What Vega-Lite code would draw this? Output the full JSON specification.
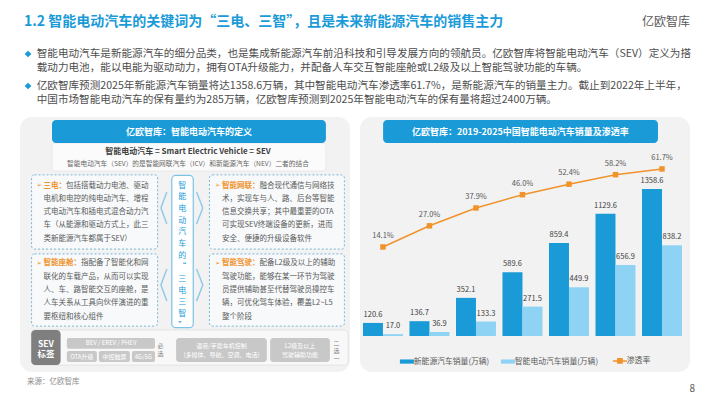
{
  "$schema": "https://vega.github.io/schema/vega-lite/v6.json",
  "background": "white",
  "padding": {"left": 20, "top": 14, "right": 15, "bottom": 0},
  "spacing": 8,
  "resolve": {"scale": {"color": "independent"}, "legend": {"color": "independent"}},
  "vconcat": [
    {
      "width": 670,
      "height": 64,
      "resolve": {"scale": {"y": "independent"}},
      "layer": [
        {
          "data": {"values": [
            {"段": "1", "行": "1", "文本": "智能电动汽车是新能源汽车的细分品类，也是集成新能源汽车前沿科技和引导发展方向的领航员。亿欧智库将智能电动汽车（SEV）定义为搭"},
            {"段": "1", "行": "2", "文本": "载动力电池，能以电能为驱动动力，拥有OTA升级能力，并配备人车交互智能座舱或L2级及以上智能驾驶功能的车辆。"},
            {"段": "2", "行": "1", "文本": "亿欧智库预测2025年新能源汽车销量将达1358.6万辆，其中智能电动汽车渗透率61.7%，是新能源汽车的销量主力。截止到2022年上半年，"},
            {"段": "2", "行": "2", "文本": "中国市场智能电动汽车的保有量约为285万辆，亿欧智库预测到2025年智能电动汽车的保有量将超过2400万辆。"}
          ]},
          "encoding": {
            "y": {"field": "段", "type": "nominal", "scale": {"type": "band", "paddingInner": 0, "paddingOuter": 0}, "axis": null},
            "yOffset": {"field": "行", "type": "nominal", "scale": {"type": "band", "paddingInner": 0, "paddingOuter": 0.14}}
          },
          "layer": [
            {
              "transform": [{"filter": "datum['行'] === '1'"}],
              "mark": {"type": "point", "shape": "diamond", "filled": true, "size": 45, "color": "#1a9bd8", "opacity": 1},
              "encoding": {"x": {"datum": 1.2, "type": "quantitative", "scale": {"domain": [0, 100], "nice": false, "zero": false}, "axis": null}}
            },
            {
              "mark": {"type": "text", "align": "left", "baseline": "middle", "fontSize": 10.6, "color": "#4d4d4d"},
              "encoding": {
                "x": {"datum": 2.5, "type": "quantitative", "scale": {"domain": [0, 100], "nice": false, "zero": false}, "axis": null},
                "text": {"field": "文本"}
              }
            }
          ]
        },
        {
          "layer": [
            {
              "data": {"values": [{"文本": "1.2 智能电动汽车的关键词为“三电、三智”，且是未来新能源汽车的销售主力"}]},
              "mark": {"type": "text", "align": "left", "baseline": "middle", "fontSize": 14, "fontWeight": "bold", "color": "#1a9bd8"},
              "encoding": {
                "x": {"datum": 0.6, "type": "quantitative", "scale": {"domain": [0, 100], "nice": false, "zero": false}, "axis": null},
                "y": {"datum": 1.36, "type": "quantitative", "scale": {"domain": [0, 1], "nice": false, "zero": false}, "axis": null},
                "text": {"field": "文本"}
              }
            },
            {
              "data": {"values": [{"文本": "亿欧智库"}]},
              "mark": {"type": "text", "align": "right", "baseline": "middle", "fontSize": 12, "color": "#595959"},
              "encoding": {
                "x": {"datum": 100, "type": "quantitative", "scale": {"domain": [0, 100], "nice": false, "zero": false}, "axis": null},
                "y": {"datum": 1.36, "type": "quantitative", "scale": {"domain": [0, 1], "nice": false, "zero": false}, "axis": null},
                "text": {"field": "文本"}
              }
            }
          ]
        }
      ]
    },
    {
      "spacing": 10,
      "resolve": {"scale": {"color": "independent"}, "legend": {"color": "independent"}},
      "hconcat": [
        {
          "width": 330,
          "height": 255,
          "view": {"fill": "#f2f2f2", "cornerRadius": 12, "stroke": null},
          "title": {"text": "来源：亿欧智库", "orient": "bottom", "anchor": "start", "offset": 6, "dx": 7, "baseline": "top", "fontSize": 7.5, "fontWeight": "normal", "color": "#8c8c8c"},
          "resolve": {"scale": {"x": "independent", "y": "independent"}},
          "layer": [
            {
              "layer": [
                {"data": {"values": [{"部件": "公式框"}]}, "mark": {"type": "rect", "fill": "#fbfbfb", "stroke": "#e6e6e6", "strokeWidth": 0.8, "cornerRadius": 3},
                 "encoding": {"x": {"datum": 9.7, "type": "quantitative", "scale": {"domain": [0, 100], "nice": false, "zero": false}, "axis": null}, "x2": {"datum": 92.7},
                              "y": {"datum": 10.2, "type": "quantitative", "scale": {"domain": [0, 100], "nice": false, "zero": false, "reverse": true}, "axis": null}, "y2": {"datum": 21.2}}},
                {"data": {"values": [{"部件": "标题栏"}]}, "mark": {"type": "rect", "fill": "#1a9bd8", "cornerRadius": 4},
                 "encoding": {"x": {"datum": 9.7, "type": "quantitative", "axis": null}, "x2": {"datum": 92.7},
                              "y": {"datum": 1.2, "type": "quantitative", "axis": null}, "y2": {"datum": 10.2}}},
                {"data": {"values": [{"文本": "亿欧智库：智能电动汽车的定义"}]}, "mark": {"type": "text", "align": "center", "baseline": "middle", "fontSize": 9, "fontWeight": "bold", "color": "white"},
                 "encoding": {"x": {"datum": 51.2, "type": "quantitative"}, "y": {"datum": 5.7, "type": "quantitative"}, "text": {"field": "文本"}}},
                {"data": {"values": [{"文本": "智能电动汽车 = Smart Electric Vehicle = SEV"}]}, "mark": {"type": "text", "align": "center", "baseline": "middle", "fontSize": 8, "fontWeight": "bold", "color": "#404040"},
                 "encoding": {"x": {"datum": 50.9, "type": "quantitative"}, "y": {"datum": 13.9, "type": "quantitative"}, "text": {"field": "文本"}}},
                {"data": {"values": [{"文本": "智能电动汽车（SEV）的是智能网联汽车（ICV）和新能源汽车（NEV）二者的结合"}]}, "mark": {"type": "text", "align": "center", "baseline": "middle", "fontSize": 6.7, "color": "#666666"},
                 "encoding": {"x": {"datum": 50.9, "type": "quantitative"}, "y": {"datum": 18.6, "type": "quantitative"}, "text": {"field": "文本"}}},
                {"data": {"values": [{"部件": "三电框"}]}, "mark": {"type": "rect", "fill": "#f7f9fb", "stroke": "#7ab8d9", "strokeDash": [2, 2], "strokeWidth": 1, "cornerRadius": 3},
                 "encoding": {"x": {"datum": 3.5, "type": "quantitative"}, "x2": {"datum": 41.7}, "y": {"datum": 22.7, "type": "quantitative"}, "y2": {"datum": 51.8}}},
                {"data": {"values": [{"部件": "智能座舱框"}]}, "mark": {"type": "rect", "fill": "#f7f9fb", "stroke": "#7ab8d9", "strokeDash": [2, 2], "strokeWidth": 1, "cornerRadius": 3},
                 "encoding": {"x": {"datum": 3.5, "type": "quantitative"}, "x2": {"datum": 41.7}, "y": {"datum": 53.7, "type": "quantitative"}, "y2": {"datum": 82.0}}},
                {"data": {"values": [{"部件": "智能网联框"}]}, "mark": {"type": "rect", "fill": "#f7f9fb", "stroke": "#7ab8d9", "strokeDash": [2, 2], "strokeWidth": 1, "cornerRadius": 3},
                 "encoding": {"x": {"datum": 57.4, "type": "quantitative"}, "x2": {"datum": 98.3}, "y": {"datum": 22.7, "type": "quantitative"}, "y2": {"datum": 51.8}}},
                {"data": {"values": [{"部件": "智能驾驶框"}]}, "mark": {"type": "rect", "fill": "#f7f9fb", "stroke": "#7ab8d9", "strokeDash": [2, 2], "strokeWidth": 1, "cornerRadius": 3},
                 "encoding": {"x": {"datum": 57.4, "type": "quantitative"}, "x2": {"datum": 98.3}, "y": {"datum": 53.7, "type": "quantitative"}, "y2": {"datum": 82.0}}},
                {"data": {"values": [{"部件": "中柱"}]}, "mark": {"type": "rect", "fill": "white", "stroke": "#7cc3e6", "strokeWidth": 1.2, "cornerRadius": 4},
                 "encoding": {"x": {"datum": 46.0, "type": "quantitative"}, "x2": {"datum": 52.5}, "y": {"datum": 22.9, "type": "quantitative"}, "y2": {"datum": 82.6}}},
                {"data": {"values": [{"文本": "智\n能\n电\n动\n汽\n车\n的\n“\n三\n电\n三\n智\n”"}]}, "mark": {"type": "text", "align": "center", "baseline": "top", "fontSize": 8, "lineHeight": 11.7, "lineBreak": "\n", "color": "#1a9bd8"},
                 "encoding": {"x": {"datum": 49.2, "type": "quantitative"}, "y": {"datum": 25.3, "type": "quantitative"}, "text": {"field": "文本"}}},
                {"data": {"values": [{"部件": "箭头"}]}, "mark": {"type": "rule", "color": "#8fcbe8", "strokeWidth": 1.5},
                 "encoding": {"x": {"datum": 44.5, "type": "quantitative"}, "y": {"datum": 29.4, "type": "quantitative"}, "x2": {"datum": 42.7}, "y2": {"datum": 35.7}}},
                {"data": {"values": [{"部件": "箭头"}]}, "mark": {"type": "rule", "color": "#8fcbe8", "strokeWidth": 1.5},
                 "encoding": {"x": {"datum": 42.7, "type": "quantitative"}, "y": {"datum": 35.7, "type": "quantitative"}, "x2": {"datum": 44.5}, "y2": {"datum": 42.0}}},
                {"data": {"values": [{"部件": "箭头"}]}, "mark": {"type": "rule", "color": "#8fcbe8", "strokeWidth": 1.5},
                 "encoding": {"x": {"datum": 44.5, "type": "quantitative"}, "y": {"datum": 59.6, "type": "quantitative"}, "x2": {"datum": 42.7}, "y2": {"datum": 65.9}}},
                {"data": {"values": [{"部件": "箭头"}]}, "mark": {"type": "rule", "color": "#8fcbe8", "strokeWidth": 1.5},
                 "encoding": {"x": {"datum": 42.7, "type": "quantitative"}, "y": {"datum": 65.9, "type": "quantitative"}, "x2": {"datum": 44.5}, "y2": {"datum": 72.2}}},
                {"data": {"values": [{"部件": "箭头"}]}, "mark": {"type": "rule", "color": "#8fcbe8", "strokeWidth": 1.5},
                 "encoding": {"x": {"datum": 53.5, "type": "quantitative"}, "y": {"datum": 29.4, "type": "quantitative"}, "x2": {"datum": 55.4}, "y2": {"datum": 35.7}}},
                {"data": {"values": [{"部件": "箭头"}]}, "mark": {"type": "rule", "color": "#8fcbe8", "strokeWidth": 1.5},
                 "encoding": {"x": {"datum": 55.4, "type": "quantitative"}, "y": {"datum": 35.7, "type": "quantitative"}, "x2": {"datum": 53.5}, "y2": {"datum": 42.0}}},
                {"data": {"values": [{"部件": "箭头"}]}, "mark": {"type": "rule", "color": "#8fcbe8", "strokeWidth": 1.5},
                 "encoding": {"x": {"datum": 53.5, "type": "quantitative"}, "y": {"datum": 59.6, "type": "quantitative"}, "x2": {"datum": 55.4}, "y2": {"datum": 65.9}}},
                {"data": {"values": [{"部件": "箭头"}]}, "mark": {"type": "rule", "color": "#8fcbe8", "strokeWidth": 1.5},
                 "encoding": {"x": {"datum": 55.4, "type": "quantitative"}, "y": {"datum": 65.9, "type": "quantitative"}, "x2": {"datum": 53.5}, "y2": {"datum": 72.2}}},
                {"data": {"values": [{"部件": "标签行"}]}, "mark": {"type": "rect", "fill": "#f8f8f8", "stroke": "#e0e0e0", "strokeWidth": 0.8, "cornerRadius": 4},
                 "encoding": {"x": {"datum": 3.4, "type": "quantitative"}, "x2": {"datum": 99.4}, "y": {"datum": 83.5, "type": "quantitative"}, "y2": {"datum": 97.3}}},
                {"data": {"values": [{"部件": "SEV标签"}]}, "mark": {"type": "rect", "fill": "#7f7f7f", "cornerRadius": 4},
                 "encoding": {"x": {"datum": 3.4, "type": "quantitative"}, "x2": {"datum": 12.3}, "y": {"datum": 83.5, "type": "quantitative"}, "y2": {"datum": 97.3}}},
                {"data": {"values": [{"文本": "SEV\n标签"}]}, "mark": {"type": "text", "align": "center", "baseline": "top", "fontSize": 8.5, "lineHeight": 10.5, "lineBreak": "\n", "fontWeight": "bold", "color": "white"},
                 "encoding": {"x": {"datum": 7.85, "type": "quantitative"}, "y": {"datum": 87.3, "type": "quantitative"}, "text": {"field": "文本"}}},
                {"data": {"values": [{"部件": "BEV"}]}, "mark": {"type": "rect", "fill": "#c8c8c8", "cornerRadius": 2},
                 "encoding": {"x": {"datum": 14.2, "type": "quantitative"}, "x2": {"datum": 40.9}, "y": {"datum": 86.7, "type": "quantitative"}, "y2": {"datum": 90.9}}},
                {"data": {"values": [{"部件": "OTA"}]}, "mark": {"type": "rect", "fill": "#c8c8c8", "cornerRadius": 2},
                 "encoding": {"x": {"datum": 14.2, "type": "quantitative"}, "x2": {"datum": 23.3}, "y": {"datum": 91.8, "type": "quantitative"}, "y2": {"datum": 96.1}}},
                {"data": {"values": [{"部件": "中控触屏"}]}, "mark": {"type": "rect", "fill": "#c8c8c8", "cornerRadius": 2},
                 "encoding": {"x": {"datum": 23.9, "type": "quantitative"}, "x2": {"datum": 33.3}, "y": {"datum": 91.8, "type": "quantitative"}, "y2": {"datum": 96.1}}},
                {"data": {"values": [{"部件": "4G/5G"}]}, "mark": {"type": "rect", "fill": "#c8c8c8", "cornerRadius": 2},
                 "encoding": {"x": {"datum": 33.9, "type": "quantitative"}, "x2": {"datum": 40.9}, "y": {"datum": 91.8, "type": "quantitative"}, "y2": {"datum": 96.1}}},
                {"data": {"values": [{"部件": "语音"}]}, "mark": {"type": "rect", "fill": "#c8c8c8", "cornerRadius": 3},
                 "encoding": {"x": {"datum": 47.3, "type": "quantitative"}, "x2": {"datum": 74.8}, "y": {"datum": 86.7, "type": "quantitative"}, "y2": {"datum": 96.1}}},
                {"data": {"values": [{"部件": "L2"}]}, "mark": {"type": "rect", "fill": "#c8c8c8", "cornerRadius": 3},
                 "encoding": {"x": {"datum": 75.8, "type": "quantitative"}, "x2": {"datum": 93.9}, "y": {"datum": 86.7, "type": "quantitative"}, "y2": {"datum": 96.1}}},
                {"data": {"values": [{"文本": "BEV / EREV / PHEV"}]}, "mark": {"type": "text", "align": "center", "baseline": "middle", "fontSize": 6, "color": "white"},
                 "encoding": {"x": {"datum": 27.6, "type": "quantitative"}, "y": {"datum": 88.8, "type": "quantitative"}, "text": {"field": "文本"}}},
                {"data": {"values": [{"文本": "OTA升级"}]}, "mark": {"type": "text", "align": "center", "baseline": "middle", "fontSize": 6, "color": "white"},
                 "encoding": {"x": {"datum": 18.75, "type": "quantitative"}, "y": {"datum": 93.95, "type": "quantitative"}, "text": {"field": "文本"}}},
                {"data": {"values": [{"文本": "中控触屏"}]}, "mark": {"type": "text", "align": "center", "baseline": "middle", "fontSize": 6, "color": "white"},
                 "encoding": {"x": {"datum": 28.6, "type": "quantitative"}, "y": {"datum": 93.95, "type": "quantitative"}, "text": {"field": "文本"}}},
                {"data": {"values": [{"文本": "4G/5G"}]}, "mark": {"type": "text", "align": "center", "baseline": "middle", "fontSize": 6, "color": "white"},
                 "encoding": {"x": {"datum": 37.4, "type": "quantitative"}, "y": {"datum": 93.95, "type": "quantitative"}, "text": {"field": "文本"}}},
                {"data": {"values": [{"文本": "语音/手势车机控制\n(多媒体、导航、空调、电话)"}]}, "mark": {"type": "text", "align": "center", "baseline": "top", "fontSize": 6, "lineHeight": 8.5, "lineBreak": "\n", "color": "white"},
                 "encoding": {"x": {"datum": 61.05, "type": "quantitative"}, "y": {"datum": 88.7, "type": "quantitative"}, "text": {"field": "文本"}}},
                {"data": {"values": [{"文本": "L2级及以上\n驾驶辅助功能"}]}, "mark": {"type": "text", "align": "center", "baseline": "top", "fontSize": 6, "lineHeight": 8.5, "lineBreak": "\n", "color": "white"},
                 "encoding": {"x": {"datum": 84.85, "type": "quantitative"}, "y": {"datum": 88.7, "type": "quantitative"}, "text": {"field": "文本"}}},
                {"data": {"values": [{"文本": "必\n选"}]}, "mark": {"type": "text", "align": "center", "baseline": "top", "fontSize": 6, "lineHeight": 8.2, "lineBreak": "\n", "color": "#7f7f7f"},
                 "encoding": {"x": {"datum": 42.6, "type": "quantitative"}, "y": {"datum": 88.7, "type": "quantitative"}, "text": {"field": "文本"}}},
                {"data": {"values": [{"文本": "二\n选\n一"}]}, "mark": {"type": "text", "align": "center", "baseline": "top", "fontSize": 6, "lineHeight": 8, "lineBreak": "\n", "color": "#7f7f7f"},
                 "encoding": {"x": {"datum": 95.9, "type": "quantitative"}, "y": {"datum": 87.5, "type": "quantitative"}, "text": {"field": "文本"}}}
              ]
            },
            {
              "data": {"values": [
                {"列": "左", "排": "上", "符号": "➢", "要点": "三电：", "首行": "包括搭载动力电池、驱动", "正文": "电机和电控的纯电动汽车、增程\n式电动汽车和插电式混合动力汽\n车（从能源和驱动方式上，此三\n类新能源汽车都属于SEV）"},
                {"列": "右", "排": "上", "符号": "➢", "要点": "智能网联：", "首行": "融合现代通信与网络技", "正文": "术，实现车与人、路、后台等智能\n信息交换共享；其中最重要的OTA\n可实现SEV终端设备的更新，进而\n安全、便捷的升级设备软件"},
                {"列": "左", "排": "下", "符号": "➢", "要点": "智能座舱：", "首行": "指配备了智能化和网", "正文": "联化的车载产品，从而可以实现\n人、车、路智能交互的座舱，是\n人车关系从工具向伙伴演进的重\n要枢纽和核心组件"},
                {"列": "右", "排": "下", "符号": "➢", "要点": "智能驾驶：", "首行": "配备L2级及以上的辅助", "正文": "驾驶功能，能够在某一环节为驾驶\n员提供辅助甚至代替驾驶员操控车\n辆，可优化驾车体验，覆盖L2~L5\n整个阶段"}
              ]},
              "encoding": {
                "x": {"field": "列", "type": "nominal", "bandPosition": 0, "scale": {"type": "band", "domain": ["左", "右"], "paddingInner": 0.328, "paddingOuter": 0.0882, "align": 0.524}, "axis": null},
                "y": {"field": "排", "type": "nominal", "bandPosition": 0, "scale": {"type": "band", "domain": ["上", "下"], "paddingInner": 0.064, "paddingOuter": 0.667, "align": 0.5625}, "axis": null}
              },
              "layer": [
                {"mark": {"type": "text", "align": "left", "baseline": "top", "fontSize": 6.5, "color": "#f0932b", "dy": 6.5, "font": "DejaVu Sans"}, "encoding": {"text": {"field": "符号"}}},
                {"mark": {"type": "text", "align": "left", "baseline": "top", "fontSize": 7.5, "fontWeight": "bold", "color": "#f0932b", "dx": 7, "dy": 6}, "encoding": {"text": {"field": "要点"}}},
                {"transform": [{"filter": "datum['要点'] === '三电：'"}],
                 "mark": {"type": "text", "align": "left", "baseline": "top", "fontSize": 7.5, "color": "#595959", "dx": 29.5, "dy": 6}, "encoding": {"text": {"field": "首行"}}},
                {"transform": [{"filter": "datum['要点'] !== '三电：'"}],
                 "mark": {"type": "text", "align": "left", "baseline": "top", "fontSize": 7.5, "color": "#595959", "dx": 44.5, "dy": 6}, "encoding": {"text": {"field": "首行"}}},
                {"mark": {"type": "text", "align": "left", "baseline": "top", "fontSize": 7.5, "lineHeight": 13.3, "lineBreak": "\n", "color": "#595959", "dx": 7, "dy": 19.3}, "encoding": {"text": {"field": "正文"}}}
              ]
            }
          ]
        },
        {
          "width": 330,
          "height": 255,
          "view": {"fill": "#f2f2f2", "cornerRadius": 12, "stroke": null},
          "title": {"text": "8", "orient": "bottom", "anchor": "end", "offset": 12, "dx": 5, "baseline": "top", "fontSize": 10, "fontWeight": "normal", "color": "#595959"},
          "resolve": {"scale": {"x": "independent", "y": "independent"}},
          "layer": [
            {
              "resolve": {"scale": {"y": "independent"}},
              "layer": [
                {
                  "data": {"values": [
                    {"年份": "2019", "系列": "新能源汽车销量(万辆)", "销量": 120.6},
                    {"年份": "2019", "系列": "智能电动汽车销量(万辆)", "销量": 17.0},
                    {"年份": "2020", "系列": "新能源汽车销量(万辆)", "销量": 136.7},
                    {"年份": "2020", "系列": "智能电动汽车销量(万辆)", "销量": 36.9},
                    {"年份": "2021", "系列": "新能源汽车销量(万辆)", "销量": 352.1},
                    {"年份": "2021", "系列": "智能电动汽车销量(万辆)", "销量": 133.3},
                    {"年份": "2022E", "系列": "新能源汽车销量(万辆)", "销量": 589.6},
                    {"年份": "2022E", "系列": "智能电动汽车销量(万辆)", "销量": 271.5},
                    {"年份": "2023E", "系列": "新能源汽车销量(万辆)", "销量": 859.4},
                    {"年份": "2023E", "系列": "智能电动汽车销量(万辆)", "销量": 449.9},
                    {"年份": "2024E", "系列": "新能源汽车销量(万辆)", "销量": 1129.6},
                    {"年份": "2024E", "系列": "智能电动汽车销量(万辆)", "销量": 656.9},
                    {"年份": "2025E", "系列": "新能源汽车销量(万辆)", "销量": 1358.6},
                    {"年份": "2025E", "系列": "智能电动汽车销量(万辆)", "销量": 838.2}
                  ]},
                  "encoding": {
                    "x": {"field": "年份", "type": "nominal", "sort": null, "scale": {"paddingInner": 0.14, "paddingOuter": 0.118, "align": 0.27},
                          "axis": {"title": null, "orient": "bottom", "offset": -31, "domain": false, "ticks": false, "labelAngle": 0, "labelFontSize": 7.8, "labelColor": "#595959", "labelPadding": 2}},
                    "xOffset": {"field": "系列", "type": "nominal", "sort": null, "scale": {"domain": ["新能源汽车销量(万辆)", "智能电动汽车销量(万辆)"], "paddingInner": 0, "paddingOuter": 0}},
                    "y": {"field": "销量", "type": "quantitative", "scale": {"domain": [-333, 2024], "nice": false}, "axis": null}
                  },
                  "layer": [
                    {
                      "mark": {"type": "bar"},
                      "encoding": {
                        "color": {"field": "系列", "type": "nominal",
                          "scale": {"domain": ["新能源汽车销量(万辆)", "智能电动汽车销量(万辆)", "渗透率"], "range": ["#1a9bd8", "#8fd3f4", "#f0932b"]},
                          "legend": {"orient": "none", "legendX": 43, "legendY": 240, "direction": "horizontal", "title": null,
                            "labelFontSize": 7.8, "labelColor": "#595959", "labelOffset": 3, "columnPadding": 10, "symbolSize": 196,
                            "encode": {"symbols": {"update": {
                              "shape": {"signal": "datum.value === '渗透率' ? 'M-1,0H1M-0.3,-0.3H0.3V0.3H-0.3Z' : 'M-1,-0.3H1V0.3H-1Z'"},
                              "fill": {"signal": "scale('color', datum.value)"},
                              "stroke": {"signal": "datum.value === '渗透率' ? '#f0932b' : 'transparent'"},
                              "strokeWidth": {"signal": "datum.value === '渗透率' ? 1.5 : 0"},
                              "opacity": {"value": 1}
                            }}}
                          }
                        }
                      }
                    },
                    {
                      "mark": {"type": "text", "baseline": "middle", "dy": -8, "fontSize": 7.5, "color": "#404040"},
                      "encoding": {"text": {"field": "销量", "type": "quantitative", "format": ".1f"}}
                    }
                  ]
                },
                {
                  "data": {"values": [
                    {"年份": "2019", "系列": "渗透率", "渗透率": 0.141},
                    {"年份": "2020", "系列": "渗透率", "渗透率": 0.270},
                    {"年份": "2021", "系列": "渗透率", "渗透率": 0.379},
                    {"年份": "2022E", "系列": "渗透率", "渗透率": 0.460},
                    {"年份": "2023E", "系列": "渗透率", "渗透率": 0.524},
                    {"年份": "2024E", "系列": "渗透率", "渗透率": 0.582},
                    {"年份": "2025E", "系列": "渗透率", "渗透率": 0.617}
                  ]},
                  "encoding": {
                    "x": {"field": "年份", "type": "nominal", "sort": null, "axis": null},
                    "y": {"field": "渗透率", "type": "quantitative", "scale": {"domain": [-0.622, 0.934], "nice": false, "zero": false}, "axis": null},
                    "color": {"field": "系列", "type": "nominal"}
                  },
                  "layer": [
                    {"mark": {"type": "line", "strokeWidth": 1.5}},
                    {"mark": {"type": "point", "shape": "square", "filled": true, "size": 30, "opacity": 1}},
                    {"mark": {"type": "text", "baseline": "middle", "dy": -11, "fontSize": 7.5},
                     "encoding": {"text": {"field": "渗透率", "type": "quantitative", "format": ".1%"}, "color": {"value": "#595959"}}}
                  ]
                }
              ]
            },
            {
              "layer": [
                {"data": {"values": [{"部件": "标题栏"}]}, "mark": {"type": "rect", "fill": "#1a9bd8", "cornerRadius": 4},
                 "encoding": {"x": {"datum": 7.0, "type": "quantitative", "scale": {"domain": [0, 100], "nice": false, "zero": false}, "axis": null}, "x2": {"datum": 90.3},
                              "y": {"datum": 1.2, "type": "quantitative", "scale": {"domain": [0, 100], "nice": false, "zero": false, "reverse": true}, "axis": null}, "y2": {"datum": 10.2}}},
                {"data": {"values": [{"文本": "亿欧智库：2019-2025中国智能电动汽车销量及渗透率"}]}, "mark": {"type": "text", "align": "center", "baseline": "middle", "fontSize": 9, "fontWeight": "bold", "color": "white"},
                 "encoding": {"x": {"datum": 48.6, "type": "quantitative"}, "y": {"datum": 5.7, "type": "quantitative"}, "text": {"field": "文本"}}}
              ]
            }
          ]
        }
      ]
    }
  ],
  "config": {
    "font": "Noto Sans CJK SC",
    "view": {"stroke": null}
  }
}
